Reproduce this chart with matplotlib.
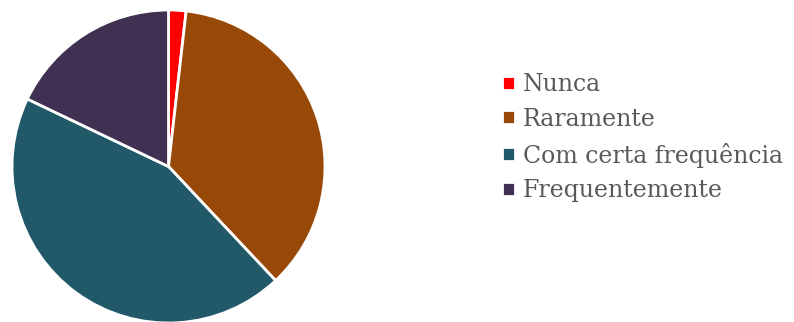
import matplotlib.pyplot as plt

labels = ["Nunca", "Raramente", "Com certa frequência", "Frequentemente"]
values = [1.8, 36.2, 44.1, 17.9]
colors = ["#FF0000", "#984807", "#215968", "#403152"]

W, H = 794, 322
fig = plt.figure(figsize=(W / 100, H / 100), dpi=100)

cx, cy, r = 168.5, 166.5, 156.5
ax = fig.add_axes([(cx - r) / W, (H - cy - r) / H, 2 * r / W, 2 * r / H])
wedges, _ = ax.pie(values, colors=colors, startangle=90, counterclock=False,
                   radius=1, wedgeprops=dict(edgecolor="white", linewidth=2))
ax.set_xlim(-1, 1)
ax.set_ylim(-1, 1)
ax.set_aspect("equal")
ax.axis("off")

fig.legend(wedges, labels, loc="upper left", bbox_to_anchor=(502 / W, 1 - 73 / H),
           frameon=False, prop={"family": "DejaVu Serif", "size": 17},
           labelcolor="#595959", handlelength=0.53, handleheight=0.53,
           handletextpad=0.35, labelspacing=0.5, borderaxespad=0, borderpad=0)

fig.savefig("out.png", dpi=100)
